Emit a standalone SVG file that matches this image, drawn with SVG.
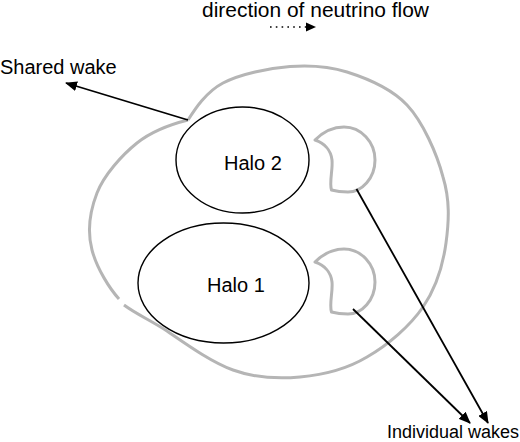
<svg xmlns="http://www.w3.org/2000/svg" width="520" height="442" viewBox="0 0 520 442">
<defs>
<style>
text{font-family:"Liberation Sans",Arial,Helvetica,sans-serif;fill:#000}
.wake{fill:none;stroke:#b5b5b5;stroke-width:3;stroke-linejoin:round}
.halo{fill:none;stroke:#000;stroke-width:1.4}
.conn{fill:none;stroke:#000;stroke-width:1.8}
</style>
<marker id="ah" viewBox="0 0 12 10" refX="11" refY="5" markerWidth="12" markerHeight="10" markerUnits="userSpaceOnUse" orient="auto">
<path d="M0,0 L12,5 L0,10 Z" fill="#000"/>
</marker>
<path id="crescent" d="M315,140 C324,131 334,127 344,127 C361,127 375,142 375,160 C375,178 362,192 348,192 C341,192 335,191 331.5,190 C329,182 333,170 332,160 C331,150 324,143 315,140 Z"/>
</defs>
<rect width="520" height="442" fill="#fff"/>
<g id="shared-wake">
<path class="wake" d="M188,120 C195,109 206,92 223,83 C240,74 269,68 290,66.5 C311,65 328,66 347,72 C366,78 391,88 407,105 C423,122 437,154 443,177 C450,200 449,221 446,243 C443,265 436,288 423,307 C410,326 388,345 367,357 C347,369 322,375 300,377 C278,379 255,378 233,370 C211,362 186,344 167,331 C152,321 136,314 124,305"/>
<path class="wake" d="M119,299 C110,289 97,269 92,250 C87,231 90,211 97,193 C104,175 122,155 137,143 C152,131 168,125 188,120"/>
</g>
<g id="wake-2"><use href="#crescent" class="wake"/></g>
<g id="wake-1"><use href="#crescent" class="wake" transform="translate(0,122)"/></g>
<g id="halo-2">
<ellipse class="halo" cx="242.5" cy="160" rx="66.5" ry="53"/>
<text x="224" y="170" font-size="20">Halo 2</text>
</g>
<g id="halo-1">
<ellipse class="halo" cx="223.5" cy="283" rx="85.5" ry="60"/>
<text x="207" y="292" font-size="20">Halo 1</text>
</g>
<g id="connectors">
<line class="conn" x1="188" y1="120" x2="66" y2="83" marker-end="url(#ah)"/>
<line class="conn" x1="356.5" y1="189" x2="488" y2="423" marker-end="url(#ah)"/>
<line class="conn" x1="353" y1="309" x2="470" y2="423" marker-end="url(#ah)"/>
<line x1="270" y1="27" x2="306" y2="27" stroke="#000" stroke-width="1.6" stroke-dasharray="1.6 4.2"/>
<path d="M306,22.5 L316,27 L306,31.5 Z" fill="#000"/>
</g>
<g id="labels">
<text x="202" y="16.5" font-size="20" textLength="227" lengthAdjust="spacingAndGlyphs">direction of neutrino flow</text>
<text x="0" y="74" font-size="20">Shared wake</text>
<text x="387" y="438" font-size="18">Individual wakes</text>
</g>
</svg>
